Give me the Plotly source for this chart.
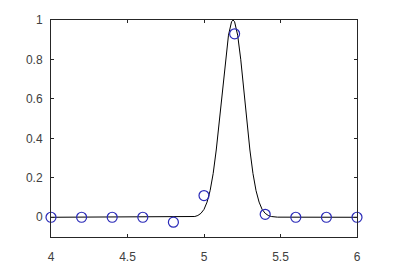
import plotly.graph_objects as go

# measured data points
x_pts = [4.0, 4.2, 4.4, 4.6, 4.8, 5.0, 5.2, 5.4, 5.6, 5.8, 6.0]
y_pts = [0.0, 0.0, 0.0, 0.0, -0.025, 0.11, 0.93, 0.015, 0.0, 0.0, 0.0]

# fitted curve, values
x_fit = [4.0, 4.9, 4.92, 4.94, 4.96, 4.98, 5.0, 5.02, 5.04, 5.06, 5.08, 5.1, 5.12, 5.14,
         5.16, 5.18, 5.19, 5.2, 5.22, 5.24, 5.26, 5.28, 5.3, 5.32, 5.34, 5.36, 5.38,
         5.4, 5.42, 5.44, 5.46, 5.48, 6.0]
y_fit = [0.0, 0.0006, 0.0015, 0.0039, 0.0091, 0.02, 0.04, 0.077, 0.135, 0.222, 0.341,
         0.487, 0.647, 0.801, 0.923, 0.991, 1.0, 0.991, 0.923, 0.801, 0.647, 0.487,
         0.341, 0.222, 0.135, 0.077, 0.04, 0.02, 0.0091, 0.0039, 0.0015, 0.0006, 0.0]

x_ticks = [4, 4.5, 5, 5.5, 6]
y_ticks = [0, 0.2, 0.4, 0.6, 0.8, 1]

fig = go.Figure()
fig.add_trace(go.Scatter(x=x_fit, y=y_fit, mode="lines",
                         line=dict(color="black", width=1), hoverinfo="skip"))
fig.add_trace(go.Scatter(x=x_pts, y=y_pts, mode="markers", cliponaxis=False,
                         marker=dict(symbol="circle-open", size=10, color="#2a2ab8",
                                     line=dict(width=1.2, color="#2a2ab8"))))

axis_common = dict(showgrid=False, zeroline=False, showline=True, mirror="allticks",
                   linecolor="#262626", linewidth=1, ticks="inside", ticklen=3,
                   automargin=False,
                   tickcolor="#262626", tickfont=dict(family="Liberation Sans, Arial",
                                                      size=12, color="#404040"))
fig.update_xaxes(range=[4, 6], tickvals=x_ticks, ticktext=[str(v) for v in x_ticks],
                 ticklabelstandoff=9, **axis_common)
fig.update_yaxes(range=[-0.1, 1], tickvals=y_ticks, ticktext=[f"{v:g}" for v in y_ticks],
                 ticklabelstandoff=5, **axis_common)
fig.update_layout(width=394, height=267, margin=dict(l=51, r=37, t=20, b=30),
                  showlegend=False, plot_bgcolor="white", paper_bgcolor="white")
fig.write_html("out.html")
